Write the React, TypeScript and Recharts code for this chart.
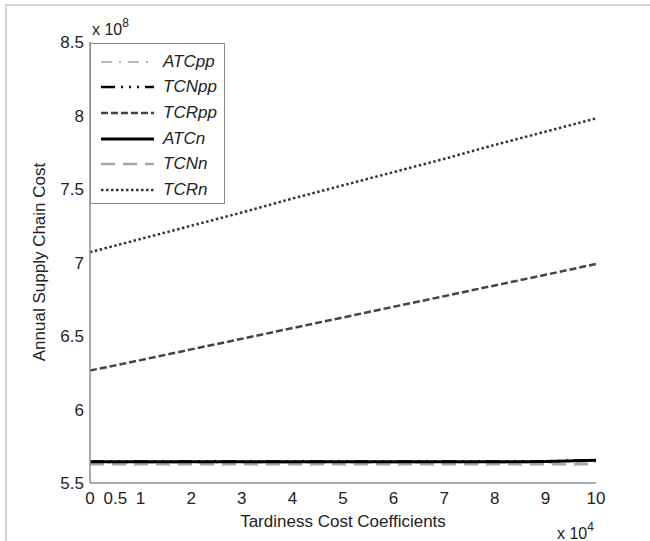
import React from 'react';
import { LineChart, Line, XAxis, YAxis, Legend } from 'recharts';

// tardiness cost coefficient (x 10^4)
const coefficients = [0, 0.5, 1, 2, 3, 4, 5, 6, 7, 8, 9, 10];

// annual supply chain cost (x 10^8)
const atcpp = [5.637, 5.637, 5.637, 5.637, 5.637, 5.637, 5.637, 5.637, 5.637, 5.637, 5.638, 5.645];
const tcnpp = [5.647, 5.647, 5.647, 5.647, 5.647, 5.647, 5.647, 5.647, 5.647, 5.647, 5.648, 5.655];
const tcrpp = [6.265, 6.3, 6.336, 6.409, 6.481, 6.554, 6.626, 6.699, 6.771, 6.844, 6.916, 6.99];
const atcn = [5.645, 5.645, 5.645, 5.645, 5.645, 5.645, 5.645, 5.645, 5.645, 5.645, 5.646, 5.655];
const tcnn = [5.628, 5.628, 5.628, 5.628, 5.628, 5.628, 5.628, 5.628, 5.628, 5.628, 5.628, 5.628];
const tcrn = [7.07, 7.115, 7.16, 7.25, 7.34, 7.435, 7.525, 7.615, 7.705, 7.8, 7.89, 7.98];

const xTicks = [0, 0.5, 1, 2, 3, 4, 5, 6, 7, 8, 9, 10];
const yTicks = [5.5, 6, 6.5, 7, 7.5, 8, 8.5];

const data = coefficients.map((x, i) => ({
  x,
  ATCpp: atcpp[i],
  TCNpp: tcnpp[i],
  TCRpp: tcrpp[i],
  ATCn: atcn[i],
  TCNn: tcnn[i],
  TCRn: tcrn[i],
}));

const FONT = '"Liberation Sans", Arial, sans-serif';
const AXIS = '#8f8f8f';

const styles: Record<string, { color: string; dash?: string; width: number }> = {
  ATCpp: { color: '#b8b8b8', dash: '11 7 2 7', width: 2 },
  TCNpp: { color: '#000000', dash: '14 6 2 6 2 6 2 6', width: 2.5 },
  TCRpp: { color: '#444444', dash: '7 3', width: 2.5 },
  ATCn: { color: '#000000', width: 3 },
  TCNn: { color: '#a8a8a8', dash: '14 8', width: 2.5 },
  TCRn: { color: '#333333', dash: '2.5 2.5', width: 2.5 },
};

const legendOrder = ['ATCpp', 'TCNpp', 'TCRpp', 'ATCn', 'TCNn', 'TCRn'];
const drawOrder = ['ATCpp', 'TCNn', 'TCNpp', 'ATCn', 'TCRpp', 'TCRn'];

function LegendBox() {
  return (
    <div
      style={{
        width: 135,
        height: 161,
        border: '1px solid #8a8a8a',
        background: '#fff',
        boxSizing: 'border-box',
        paddingTop: 5,
      }}
    >
      {legendOrder.map((k) => {
        const s = styles[k];
        return (
          <div key={k} style={{ height: 25.6, display: 'flex', alignItems: 'center' }}>
            <svg width={72} height={10} style={{ flex: 'none' }}>
              <line x1={10} x2={63} y1={5} y2={5} stroke={s.color} strokeWidth={s.width} strokeDasharray={s.dash} />
            </svg>
            <span style={{ fontStyle: 'italic', fontSize: 17, fontFamily: FONT, color: '#222' }}>{k}</span>
          </div>
        );
      })}
    </div>
  );
}

function XTick(props: any) {
  const { x, y, payload } = props;
  return (
    <text x={x} y={y + 21} textAnchor="middle" fontSize={17} fontFamily={FONT} fill="#222">
      {payload.value}
    </text>
  );
}

function YTick(props: any) {
  const { x, y, payload } = props;
  return (
    <text x={x - 6} y={y + 6} textAnchor="end" fontSize={17} fontFamily={FONT} fill="#222">
      {payload.value}
    </text>
  );
}

const noLabel = () => <g />;

export default function App() {
  return (
    <div style={{ position: 'absolute', left: 0, top: 0, width: 650, height: 541, background: '#fff' }}>
      <div
        style={{
          position: 'absolute',
          left: 5,
          top: 4,
          width: 645,
          height: 537,
          borderTop: '2px solid #d4d4d4',
          borderLeft: '2px solid #d4d4d4',
        }}
      />
      <div style={{ position: 'absolute', left: 92, top: 18, fontFamily: FONT, fontSize: 16, color: '#222' }}>
        x 10<sup style={{ fontSize: 12, position: 'relative', top: -2 }}>8</sup>
      </div>
      <div style={{ position: 'absolute', left: 557, top: 522, fontFamily: FONT, fontSize: 16, color: '#222' }}>
        x 10<sup style={{ fontSize: 12, position: 'relative', top: -2 }}>4</sup>
      </div>
      <div
        style={{
          position: 'absolute',
          left: 40,
          top: 262,
          transform: 'translate(-50%, -50%) rotate(-90deg)',
          fontFamily: FONT,
          fontSize: 17,
          color: '#222',
          whiteSpace: 'nowrap',
        }}
      >
        Annual Supply Chain Cost
      </div>
      <div
        style={{
          position: 'absolute',
          left: 343,
          top: 522,
          transform: 'translate(-50%, -50%)',
          fontFamily: FONT,
          fontSize: 17,
          color: '#222',
          whiteSpace: 'nowrap',
        }}
      >
        Tardiness Cost Coefficients
      </div>
      <div style={{ position: 'absolute', left: 0, top: 0 }}>
        <LineChart width={650} height={541} data={data} margin={{ top: 42, right: 54, left: 0, bottom: 0 }}>
          <XAxis
            xAxisId="main"
            dataKey="x"
            type="number"
            domain={[0, 10]}
            ticks={xTicks}
            interval={0}
            height={58}
            tickSize={0}
            tickMargin={0}
            tickLine={false}
            axisLine={{ stroke: AXIS, strokeWidth: 1.5 }}
            tick={<XTick />}
          />
          <XAxis
            xAxisId="bottomIn"
            dataKey="x"
            type="number"
            domain={[0, 10]}
            ticks={xTicks}
            interval={0}
            height={0}
            mirror
            axisLine={false}
            tickSize={5}
            tickLine={{ stroke: AXIS }}
            tick={noLabel}
          />
          <XAxis
            xAxisId="top"
            orientation="top"
            dataKey="x"
            type="number"
            domain={[0, 10]}
            ticks={xTicks}
            interval={0}
            height={0}
            mirror
            axisLine={{ stroke: AXIS, strokeWidth: 1.5 }}
            tickSize={5}
            tickLine={{ stroke: AXIS }}
            tick={noLabel}
          />
          <YAxis
            yAxisId="main"
            type="number"
            domain={[5.5, 8.5]}
            ticks={yTicks}
            interval={0}
            width={90}
            tickSize={0}
            tickMargin={0}
            tickLine={false}
            axisLine={{ stroke: AXIS, strokeWidth: 1.5 }}
            tick={<YTick />}
          />
          <YAxis
            yAxisId="leftIn"
            type="number"
            domain={[5.5, 8.5]}
            ticks={yTicks}
            interval={0}
            width={0}
            mirror
            axisLine={false}
            tickSize={5}
            tickLine={{ stroke: AXIS }}
            tick={noLabel}
          />
          <YAxis
            yAxisId="right"
            orientation="right"
            type="number"
            domain={[5.5, 8.5]}
            ticks={yTicks}
            interval={0}
            width={0}
            mirror
            axisLine={{ stroke: AXIS, strokeWidth: 1.5 }}
            tickSize={5}
            tickLine={{ stroke: AXIS }}
            tick={noLabel}
          />
          <Legend
            layout="vertical"
            align="center"
            verticalAlign="middle"
            wrapperStyle={{ left: 90, top: 43, width: 135, height: 161 }}
            content={() => <LegendBox />}
          />
          {drawOrder.map((k) => (
            <Line
              key={k}
              xAxisId="main"
              yAxisId="main"
              dataKey={k}
              type="linear"
              stroke={styles[k].color}
              strokeWidth={styles[k].width}
              strokeDasharray={styles[k].dash}
              dot={false}
              activeDot={false}
              isAnimationActive={false}
            />
          ))}
        </LineChart>
      </div>
    </div>
  );
}
